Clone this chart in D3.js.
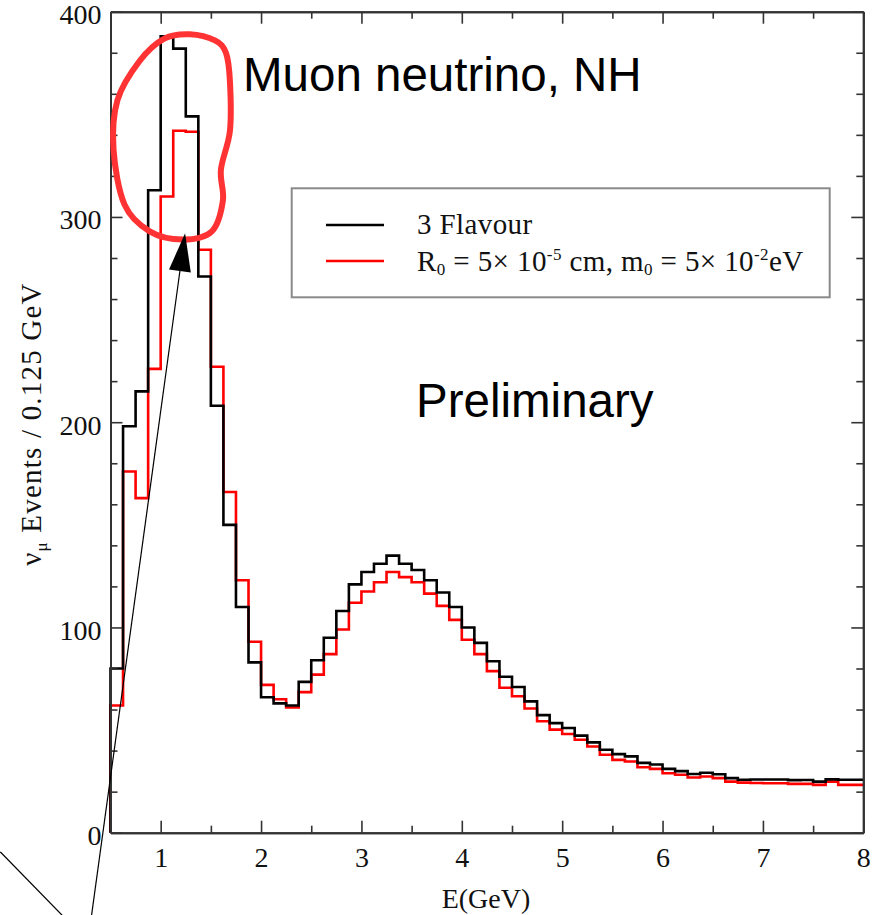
<!DOCTYPE html>
<html>
<head>
<meta charset="utf-8">
<script src="https://cdnjs.cloudflare.com/ajax/libs/d3/7.8.5/d3.min.js"></script>
<style>
  html, body { margin: 0; padding: 0; background: #fff; }
  svg { display: block; overflow: visible; }
  .axis path, .axis line { stroke: #333; }
  .axis text { font-family: "Liberation Serif", serif; fill: #111; }
</style>
</head>
<body>
<svg id="chart" width="882" height="915"></svg>
<script>

// binning: 0.125 GeV bins from 0.5 to 8 GeV
const eMin = 0.5;
const eMax = 8;
const binWidth = 0.125;

// events per bin
const threeFlavour = [
  80, 198, 215, 313, 388, 382, 349, 271, 208, 150,
  110, 83, 66, 63, 62, 73.5, 84, 95, 108, 121,
  127, 131, 135, 131, 128, 123, 117, 110, 100, 92.5,
  83.5, 76, 71, 64, 57.3, 53.4, 51, 47.3, 44, 40.4,
  38.3, 37.2, 34, 33.2, 31.1, 30, 28.6, 29.2, 28.5, 26.6,
  25.8, 25.9, 25.9, 25.9, 25.6, 25.7, 24.9, 26, 25.8, 25.8
];
const decoherence = [
  62, 176, 163, 226, 310, 342, 341.5, 284, 227, 166,
  123, 93, 72, 65, 61, 68.5, 77, 87, 99, 112,
  117.5, 122, 127, 124.5, 122, 116.5, 110.5, 103.7, 94, 87,
  78.7, 70.6, 66.5, 60.5, 54.3, 50.2, 48.1, 45.3, 42, 38,
  35.5, 34.7, 31.9, 31.1, 29, 28.2, 26.9, 27.4, 26.6, 24.9,
  24.4, 24.2, 24.1, 24.1, 23.8, 23.8, 23.3, 24.9, 23.3, 23.3
];

const xMajor = [1, 2, 3, 4, 5, 6, 7, 8];
const xMinor = [1.5, 2.5, 3.5, 4.5, 5.5, 6.5, 7.5];
const yMajor = [0, 100, 200, 300, 400];
const yMinor = [20, 40, 60, 80, 120, 140, 160, 180, 220, 240, 260, 280, 320, 340, 360, 380];

// hand drawn annotations, in data units (E, events)
const circlePts = [
  [1.29, 389], [1.54, 386], [1.65, 380], [1.69, 366], [1.69, 342],
  [1.60, 323], [1.62, 308], [1.51, 293], [1.22, 289], [0.89, 293],
  [0.64, 306], [0.53, 333], [0.57, 357], [0.79, 376], [1.04, 387]
];
const arrowFrom = [0.31, -40.7];
const arrowTip = [1.243, 292];
const extraLine = [[-0.597, -9.4], [0.028, -40.7]];


var svg = d3.select("#chart");

var x = d3.scaleLinear().domain([eMin, eMax]).range([110.5, 863.3]);
var y = d3.scaleLinear().domain([0, 400]).range([832.7, 11.7]);


//////////////////////
//// histograms
//////////////////

function steps(vals) {
  var pts = [[eMin, 0]];
  vals.forEach((v, i) => {
    var lo = eMin + i * binWidth;
    pts.push([lo, v]);
    pts.push([lo + binWidth, v]);
  });
  return pts;
}

var line = d3.line().x(d => x(d[0])).y(d => y(d[1]));

svg.append("path")
  .attr("d", line(steps(decoherence)))
  .attr("fill", "none")
  .attr("stroke", "#ff0000")
  .attr("stroke-width", 2.6)
  .attr("stroke-linejoin", "miter");

svg.append("path")
  .attr("d", line(steps(threeFlavour)))
  .attr("fill", "none")
  .attr("stroke", "#000")
  .attr("stroke-width", 2.6)
  .attr("stroke-linejoin", "miter");


//////////////////////
//// axes (ticks inward, all four sides)
//////////////////

function frame(axis, tx, ty, vals, size, labels) {
  var g = svg.append("g")
    .attr("class", "axis")
    .attr("transform", `translate(${tx},${ty})`)
    .call(axis.tickValues(vals).tickSize(-size).tickSizeOuter(0));
  g.selectAll("line").attr("stroke-width", 1.6);
  g.select(".domain").attr("stroke-width", 2);
  if (!labels) g.selectAll("text").remove();
  return g;
}

// minor
frame(d3.axisBottom(x), 0, y(0), xMinor, 7, false);
frame(d3.axisTop(x), 0, y(400), xMinor, 7, false);
frame(d3.axisLeft(y), x(eMin), 0, yMinor, 7, false);
frame(d3.axisRight(y), x(eMax), 0, yMinor, 7, false);
// major
var gx = frame(d3.axisBottom(x).tickPadding(14), 0, y(0), xMajor, 12, true);
frame(d3.axisTop(x), 0, y(400), xMajor, 12, false);
var gy = frame(d3.axisLeft(y).tickPadding(9), x(eMin), 0, yMajor, 12, true);
frame(d3.axisRight(y), x(eMax), 0, yMajor, 12, false);

gx.selectAll("text").attr("font-size", 28);
gy.selectAll("text").attr("font-size", 28).attr("dy", "0.43em");

svg.append("text")
  .attr("x", 486)
  .attr("y", 908)
  .attr("text-anchor", "middle")
  .attr("font-family", "Liberation Serif, serif")
  .attr("font-size", 28)
  .attr("fill", "#111")
  .text("E(GeV)");

var ylab = svg.append("text")
  .attr("transform", "translate(41,424) rotate(-90)")
  .attr("text-anchor", "middle")
  .attr("font-family", "Liberation Serif, serif")
  .attr("font-size", 29)
  .attr("letter-spacing", 1.2)
  .attr("fill", "#111");
ylab.append("tspan").text("\u03bd");
ylab.append("tspan").attr("font-size", 17).attr("dy", 6).text("\u03bc");
ylab.append("tspan").attr("dy", -6).text(" Events / 0.125 GeV");


//////////////////////
//// legend
//////////////////

var leg = svg.append("g");
leg.append("rect")
  .attr("x", 291.7).attr("y", 188.3)
  .attr("width", 538).attr("height", 109)
  .attr("fill", "#fff")
  .attr("stroke", "#8a8a8a")
  .attr("stroke-width", 2);

var legItems = [
  { color: "#000", y: 225 },
  { color: "#ff0000", y: 261 }
];
legItems.forEach(d => {
  leg.append("line")
    .attr("x1", 326).attr("x2", 384)
    .attr("y1", d.y).attr("y2", d.y)
    .attr("stroke", d.color)
    .attr("stroke-width", 2.6);
});

leg.append("text")
  .attr("x", 417).attr("y", 234)
  .attr("font-family", "Liberation Serif, serif")
  .attr("font-size", 29)
  .attr("letter-spacing", 0.4)
  .attr("fill", "#111")
  .text("3 Flavour");

var t2 = leg.append("text")
  .attr("x", 417).attr("y", 271)
  .attr("font-family", "Liberation Serif, serif")
  .attr("font-size", 29)
  .attr("letter-spacing", 0.4)
  .attr("fill", "#111");
t2.append("tspan").text("R");
t2.append("tspan").attr("font-size", 17).attr("dy", 4).text("0");
t2.append("tspan").attr("dy", -4).text(" = 5\u00d7 10");
t2.append("tspan").attr("font-size", 17).attr("dy", -11).text("-5");
t2.append("tspan").attr("dy", 11).text(" cm, m");
t2.append("tspan").attr("font-size", 17).attr("dy", 4).text("0");
t2.append("tspan").attr("dy", -4).text(" = 5\u00d7 10");
t2.append("tspan").attr("font-size", 17).attr("dy", -11).text("-2");
t2.append("tspan").attr("dy", 11).text("eV");


//////////////////////
//// slide annotations
//////////////////

svg.append("text")
  .attr("x", 243).attr("y", 91)
  .attr("font-family", "Liberation Sans, Arial, sans-serif")
  .attr("font-size", 47.5)
  .attr("fill", "#000")
  .text("Muon neutrino, NH");

svg.append("text")
  .attr("x", 416).attr("y", 417)
  .attr("font-family", "Liberation Sans, Arial, sans-serif")
  .attr("font-size", 47.5)
  .attr("fill", "#000")
  .text("Preliminary");

svg.append("path")
  .attr("d", d3.line().x(d => x(d[0])).y(d => y(d[1])).curve(d3.curveCardinalClosed)(circlePts))
  .attr("fill", "none")
  .attr("stroke", "#ff3333")
  .attr("stroke-width", 6);

// arrow
var p0 = [x(arrowFrom[0]), y(arrowFrom[1])];
var p1 = [x(arrowTip[0]), y(arrowTip[1])];
var ang = Math.atan2(p1[1] - p0[1], p1[0] - p0[0]);
var headLen = 38, headW = 11;
var base = [p1[0] - headLen * Math.cos(ang), p1[1] - headLen * Math.sin(ang)];

svg.append("line")
  .attr("x1", p0[0]).attr("y1", p0[1])
  .attr("x2", base[0]).attr("y2", base[1])
  .attr("stroke", "#000")
  .attr("stroke-width", 1.2);

svg.append("path")
  .attr("d", d3.line()([
    p1,
    [base[0] + headW * Math.sin(ang), base[1] - headW * Math.cos(ang)],
    [base[0] - headW * Math.sin(ang), base[1] + headW * Math.cos(ang)]
  ]) + "Z")
  .attr("fill", "#000");

svg.append("line")
  .attr("x1", x(extraLine[0][0])).attr("y1", y(extraLine[0][1]))
  .attr("x2", x(extraLine[1][0])).attr("y2", y(extraLine[1][1]))
  .attr("stroke", "#000")
  .attr("stroke-width", 1.2);

</script>
</body>
</html>
